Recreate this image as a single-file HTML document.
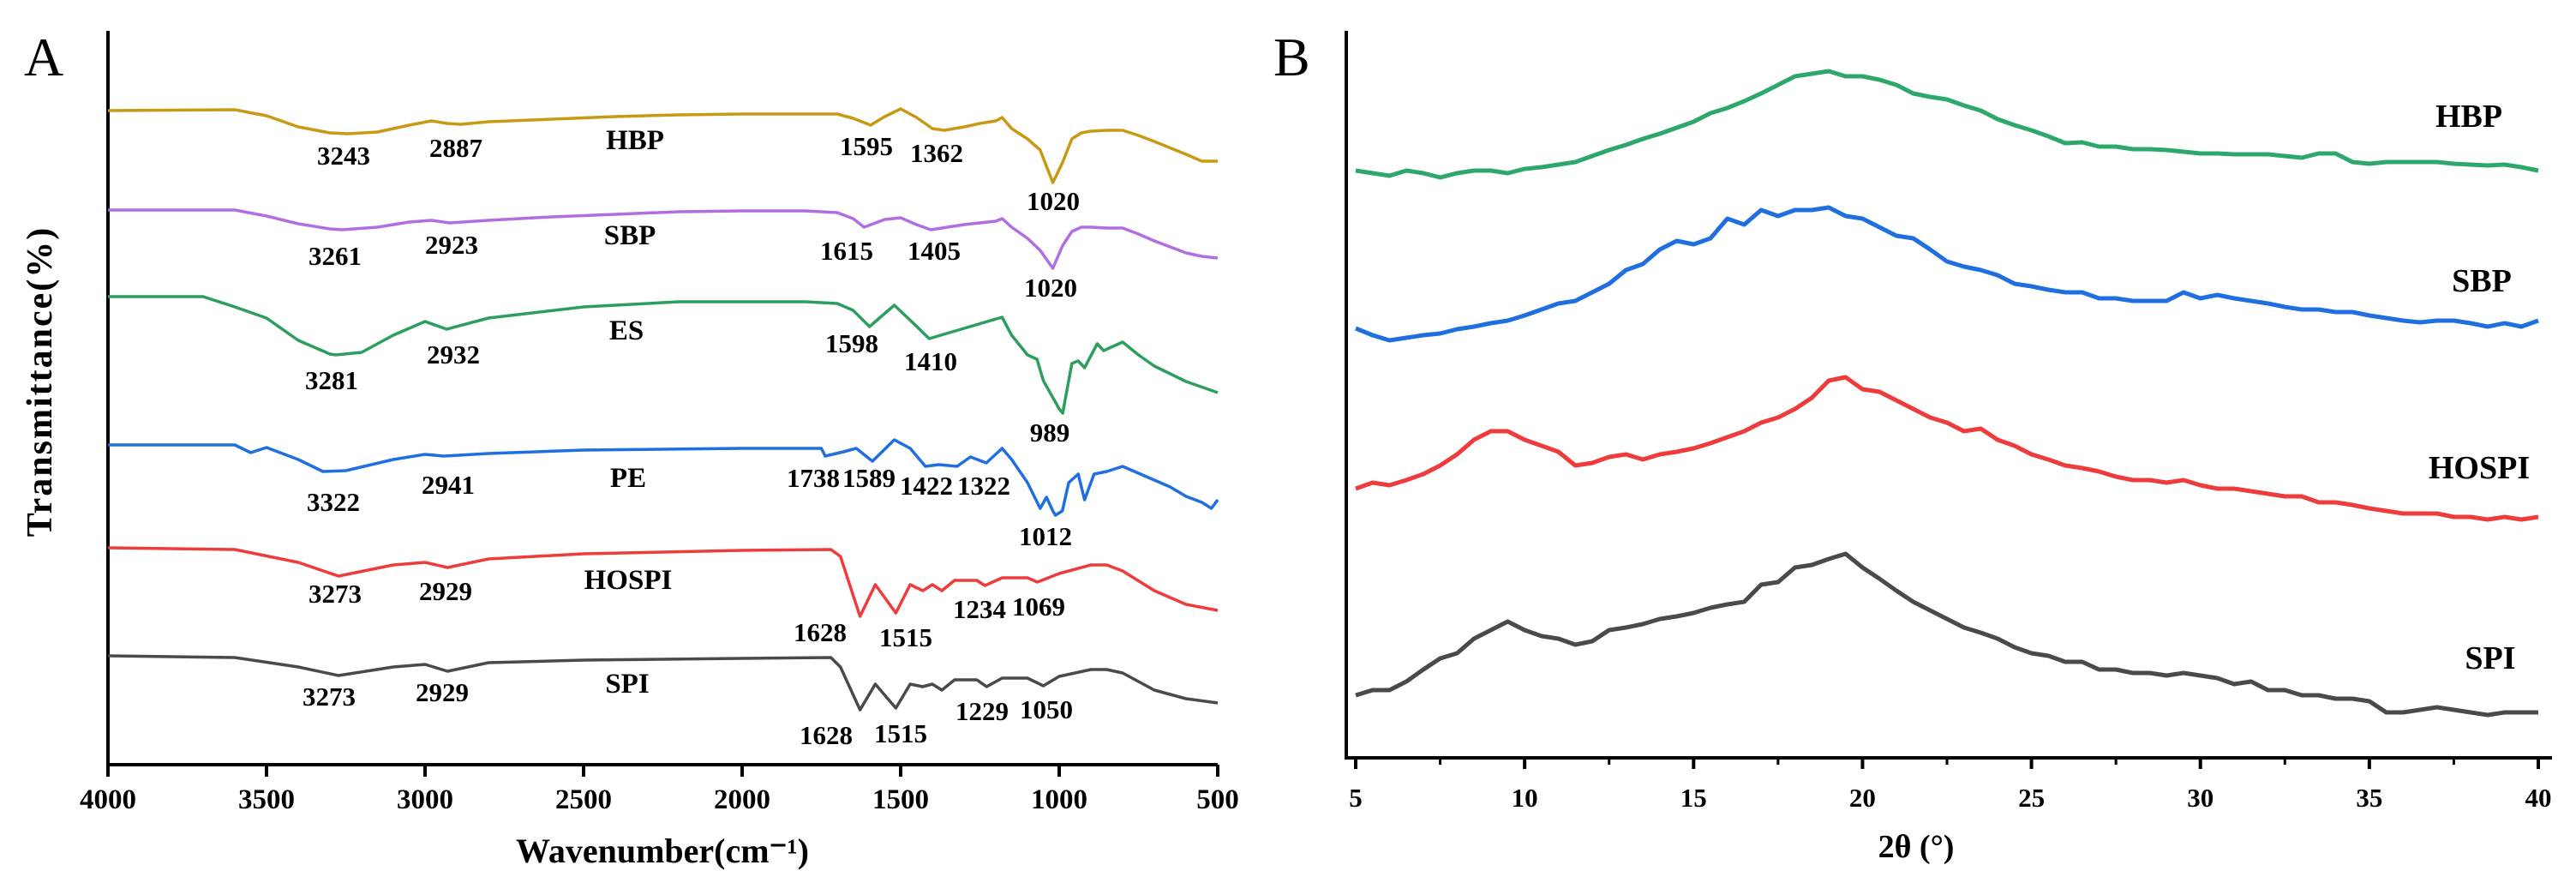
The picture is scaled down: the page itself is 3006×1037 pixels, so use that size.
<!DOCTYPE html>
<html><head><meta charset="utf-8"><style>
html,body{margin:0;padding:0;background:#fff;}
svg{display:block;}
text{font-family:"Liberation Serif",serif;}
</style></head><body>
<svg id="fig" width="3006" height="1037" viewBox="0 0 3006 1037" xmlns="http://www.w3.org/2000/svg">
<g id="panelA"></g>
<g id="panelB"></g>
</svg>
<script>
const NS="http://www.w3.org/2000/svg";
// ---------- Panel A data (FTIR) ----------
const aTicks=[4000,3500,3000,2500,2000,1500,1000,500];
const hbpWn=[4000,3600,3500,3400,3300,3243,3150,3050,2980,2930,2887,2800,2600,2400,2200,2000,1800,1700,1650,1595,1550,1500,1450,1400,1362,1300,1250,1200,1180,1150,1100,1060,1020,990,960,930,900,850,800,750,700,600,550,500];
const hbpT=[763,764,757,744,737,736,738,746,751,748,747,750,753,756,758,759,759,759,754,746,756,765,755,742,740,744,748,751,755,742,730,717,679,702,730,737,739,740,740,734,727,712,704,704];
const sbpWn=[4000,3600,3500,3400,3300,3261,3150,3050,2980,2923,2800,2600,2400,2200,2000,1800,1700,1650,1615,1550,1500,1450,1405,1300,1200,1180,1150,1100,1060,1020,990,960,930,900,850,800,750,700,600,550,500];
const sbpT=[647,647,640,631,625,624,627,633,635,632,635,639,642,645,646,646,644,637,627,636,638,630,624,630,634,637,627,614,600,579,605,622,627,627,626,626,619,611,597,593,591];
const esWn=[4000,3700,3600,3500,3400,3300,3281,3200,3100,3000,2932,2800,2500,2200,1800,1700,1650,1598,1520,1460,1410,1300,1180,1150,1100,1070,1050,1000,989,960,940,920,880,860,800,750,700,600,500];
const esT=[546,546,534,521,495,479,478,481,501,517,508,521,534,540,540,538,530,511,536,515,497,509,522,501,478,473,448,415,410,468,471,463,491,483,493,478,465,447,434];
const peWn=[4000,3600,3550,3500,3400,3322,3250,3100,3000,2941,2800,2500,2000,1750,1738,1680,1640,1589,1520,1470,1422,1380,1322,1280,1230,1180,1150,1100,1060,1040,1020,1012,990,970,940,920,890,850,800,700,650,600,550,520,500];
const peT=[373,373,364,370,356,342,343,356,362,360,363,367,369,369,360,365,369,354,379,369,348,350,348,359,352,369,356,329,299,312,296,291,296,329,339,309,339,342,348,332,324,313,306,299,309];
const hospiWn=[4000,3600,3400,3273,3100,3000,2929,2800,2500,2000,1720,1690,1628,1580,1515,1470,1430,1400,1370,1330,1260,1234,1180,1100,1069,1000,900,850,800,700,600,500];
const hospiT=[253,251,236,220,233,236,230,240,246,250,251,243,173,210,177,210,203,210,203,215,215,209,218,218,213,223,233,233,226,203,187,180];
const spiWn=[4000,3600,3400,3273,3100,3000,2929,2800,2500,2000,1720,1690,1628,1580,1515,1470,1430,1400,1370,1330,1260,1229,1180,1100,1050,1000,900,850,800,700,600,500];
const spiT=[127,125,114,104,114,117,109,119,122,124,125,114,64,94,66,94,91,94,87,99,99,91,101,101,92,103,111,111,107,87,77,72];
const hbpPeaks=["3243","2887","1595","1362","1020"];
const sbpPeaks=["3261","2923","1615","1405","1020"];
const esPeaks=["3281","2932","1598","1410","989"];
const pePeaks=["3322","2941","1738","1589","1422","1322","1012"];
const hospiPeaks=["3273","2929","1628","1515","1234","1069"];
const spiPeaks=["3273","2929","1628","1515","1229","1050"];

// ---------- Panel B data (XRD) ----------
const bTicks=[5,10,15,20,25,30,35,40];
const twoTheta=[5,5.5,6,6.5,7,7.5,8,8.5,9,9.5,10,10.5,11,11.5,12,12.5,13,13.5,14,14.5,15,15.5,16,16.5,17,17.5,18,18.5,19,19.5,20,20.5,21,21.5,22,22.5,23,23.5,24,24.5,25,25.5,26,26.5,27,27.5,28,28.5,29,29.5,30,30.5,31,31.5,32,32.5,33,33.5,34,34.5,35,35.5,36,36.5,37,37.5,38,38.5,39,39.5,40];
const hbpI=[685,682,679,685,682,677,682,685,685,682,687,689,692,695,702,709,715,722,728,735,742,752,758,766,775,785,795,798,801,795,795,791,785,775,771,768,761,755,745,738,732,725,717,718,713,713,710,710,709,707,705,705,704,704,704,702,700,705,705,695,693,695,695,695,695,693,692,691,692,689,685];
const sbpI=[501,493,487,490,493,495,500,503,507,510,516,523,530,533,543,553,569,576,593,603,599,606,629,622,639,632,639,639,642,632,629,619,609,606,593,579,573,569,563,553,550,546,543,543,536,536,533,533,533,543,536,540,536,533,530,526,523,523,520,520,516,513,510,508,510,510,507,503,507,503,510];
const hospiI=[314,321,318,324,331,341,354,371,381,381,371,364,357,341,344,351,354,348,354,357,361,367,374,381,391,397,407,420,440,444,430,427,417,407,397,391,381,384,371,364,354,348,341,338,334,328,324,324,321,324,318,314,314,311,308,305,305,298,298,295,291,288,285,285,285,281,281,278,281,278,281];
const spiI=[73,79,79,89,103,116,122,139,149,159,149,142,139,132,136,149,152,156,162,165,169,175,179,182,202,205,222,225,232,238,222,209,195,182,172,162,152,146,139,129,122,119,112,112,103,103,99,99,96,99,96,93,86,89,79,79,73,73,69,69,66,53,53,56,59,56,53,50,53,53,53];

// ---------- scales ----------
const A={x0:126,x1:1421,top:36,bot:892};
const xA=w=>A.x0+(4000-w)/3500*(A.x1-A.x0);
const yA=v=>A.bot-v*(A.bot-A.top)/856;
const B={x0:1582,x1:2962,axis:1571,right:2978,top:36,bot:884};
const xB=t=>B.x0+(t-5)/35*(B.x1-B.x0);
const yB=v=>B.bot-v*(B.bot-B.top)/848;

function el(tag,attrs,parent,txt){const e=document.createElementNS(NS,tag);for(const k in attrs)e.setAttribute(k,attrs[k]);if(txt!==undefined)e.textContent=txt;parent.appendChild(e);return e;}
const gA=document.getElementById('panelA'), gB=document.getElementById('panelB');

let t=el('text',{x:28,y:88,'font-size':64},gA,'A');


let ax=el('path',{d:`M${A.x0},${A.top}V${A.bot}H${A.x1}`,stroke:'#000','stroke-width':4,fill:'none'},gA);


aTicks.forEach(v=>{
  const tk=el('line',{x1:xA(v),x2:xA(v),y1:A.bot,y2:A.bot+14,stroke:'#000','stroke-width':4},gA);
  
  
  const lb=el('text',{x:xA(v),y:943,'font-size':33,'font-weight':'bold','text-anchor':'middle'},gA,String(v));
  
  
});
t=el('text',{x:773,y:1006,'font-size':40,'font-weight':'bold','text-anchor':'middle'},gA,'Wavenumber(cm⁻¹)');


t=el('text',{x:0,y:0,'font-size':42,'font-weight':'bold','text-anchor':'middle','letter-spacing':2,transform:'translate(60,445) rotate(-90)'},gA,'Transmittance(%)');



const ftir=[
 {n:'HBP',wn:hbpWn,v:hbpT,c:'#c89a14',peaks:hbpPeaks,lab:[[401,192],[532,183],[1011,181],[1093,189],[1229,245]],nm:[741,174]},
 {n:'SBP',wn:sbpWn,v:sbpT,c:'#b06ee0',peaks:sbpPeaks,lab:[[391,309],[527,296],[988,303],[1090,303],[1226,346]],nm:[735,285]},
 {n:'ES',wn:esWn,v:esT,c:'#2e9e5e',peaks:esPeaks,lab:[[387,454],[529,424],[994,411],[1086,432],[1225,515]],nm:[731,396]},
 {n:'PE',wn:peWn,v:peT,c:'#1f6fe0',peaks:pePeaks,lab:[[389,596],[523,576],[949,568],[1014,568],[1081,577],[1148,577],[1220,636]],nm:[733,568]},
 {n:'HOSPI',wn:hospiWn,v:hospiT,c:'#ee3b3b',peaks:hospiPeaks,lab:[[391,703],[520,700],[957,748],[1057,754],[1143,721],[1212,718]],nm:[733,687]},
 {n:'SPI',wn:spiWn,v:spiT,c:'#4a4a4a',peaks:spiPeaks,lab:[[384,823],[516,818],[964,868],[1051,866],[1146,840],[1221,838]],nm:[732,808]}
];
ftir.forEach(s=>{
  const d=s.wn.map((w,i)=>(i?'L':'M')+xA(w).toFixed(1)+','+yA(s.v[i]).toFixed(1)).join('');
  const p=el('path',{d:d,stroke:s.c,'stroke-width':3.5,fill:'none','stroke-linejoin':'round'},gA);
  
  
  const nmT=el('text',{x:s.nm[0],y:s.nm[1],'font-size':33,'font-weight':'bold','text-anchor':'middle'},gA,s.n);
  
  
  s.peaks.forEach((pk,i)=>{
    const a=el('text',{x:s.lab[i][0],y:s.lab[i][1],'font-size':31,'font-weight':'bold','text-anchor':'middle'},gA,pk);
    
    
  });
});

// Panel B
t=el('text',{x:1486,y:88,'font-size':64},gB,'B');


ax=el('path',{d:`M${B.axis},${B.top}V${B.bot}H${B.right}`,stroke:'#000','stroke-width':4,fill:'none'},gB);


bTicks.forEach((v,i)=>{
  const tk=el('line',{x1:xB(v),x2:xB(v),y1:B.bot,y2:B.bot+13,stroke:'#000','stroke-width':4},gB);
  
  
  if(i<bTicks.length-1){
    const mt=el('line',{x1:xB(v+2.5),x2:xB(v+2.5),y1:B.bot,y2:B.bot+8,stroke:'#000','stroke-width':3},gB);
    
    
  }
  const lb=el('text',{x:xB(v),y:941,'font-size':31,'font-weight':'bold','text-anchor':'middle'},gB,String(v));
  
  
});
t=el('text',{x:2236,y:1000,'font-size':38,'font-weight':'bold','text-anchor':'middle'},gB,'2θ (°)');


const xrd=[
 {n:'HBP',v:hbpI,c:'#2ea86a',nm:[2881,148]},
 {n:'SBP',v:sbpI,c:'#1f6fe0',nm:[2896,340]},
 {n:'HOSPI',v:hospiI,c:'#ee3b3b',nm:[2893,558]},
 {n:'SPI',v:spiI,c:'#4a4a4a',nm:[2906,780]}
];
xrd.forEach(s=>{
  const d=twoTheta.map((tt,i)=>(i?'L':'M')+xB(tt).toFixed(1)+','+yB(s.v[i]).toFixed(1)).join('');
  const p=el('path',{d:d,stroke:s.c,'stroke-width':5,fill:'none','stroke-linejoin':'round'},gB);
  
  
  const nmT=el('text',{x:s.nm[0],y:s.nm[1],'font-size':38,'font-weight':'bold','text-anchor':'middle'},gB,s.n);
  
  
});
</script>
</body></html>
